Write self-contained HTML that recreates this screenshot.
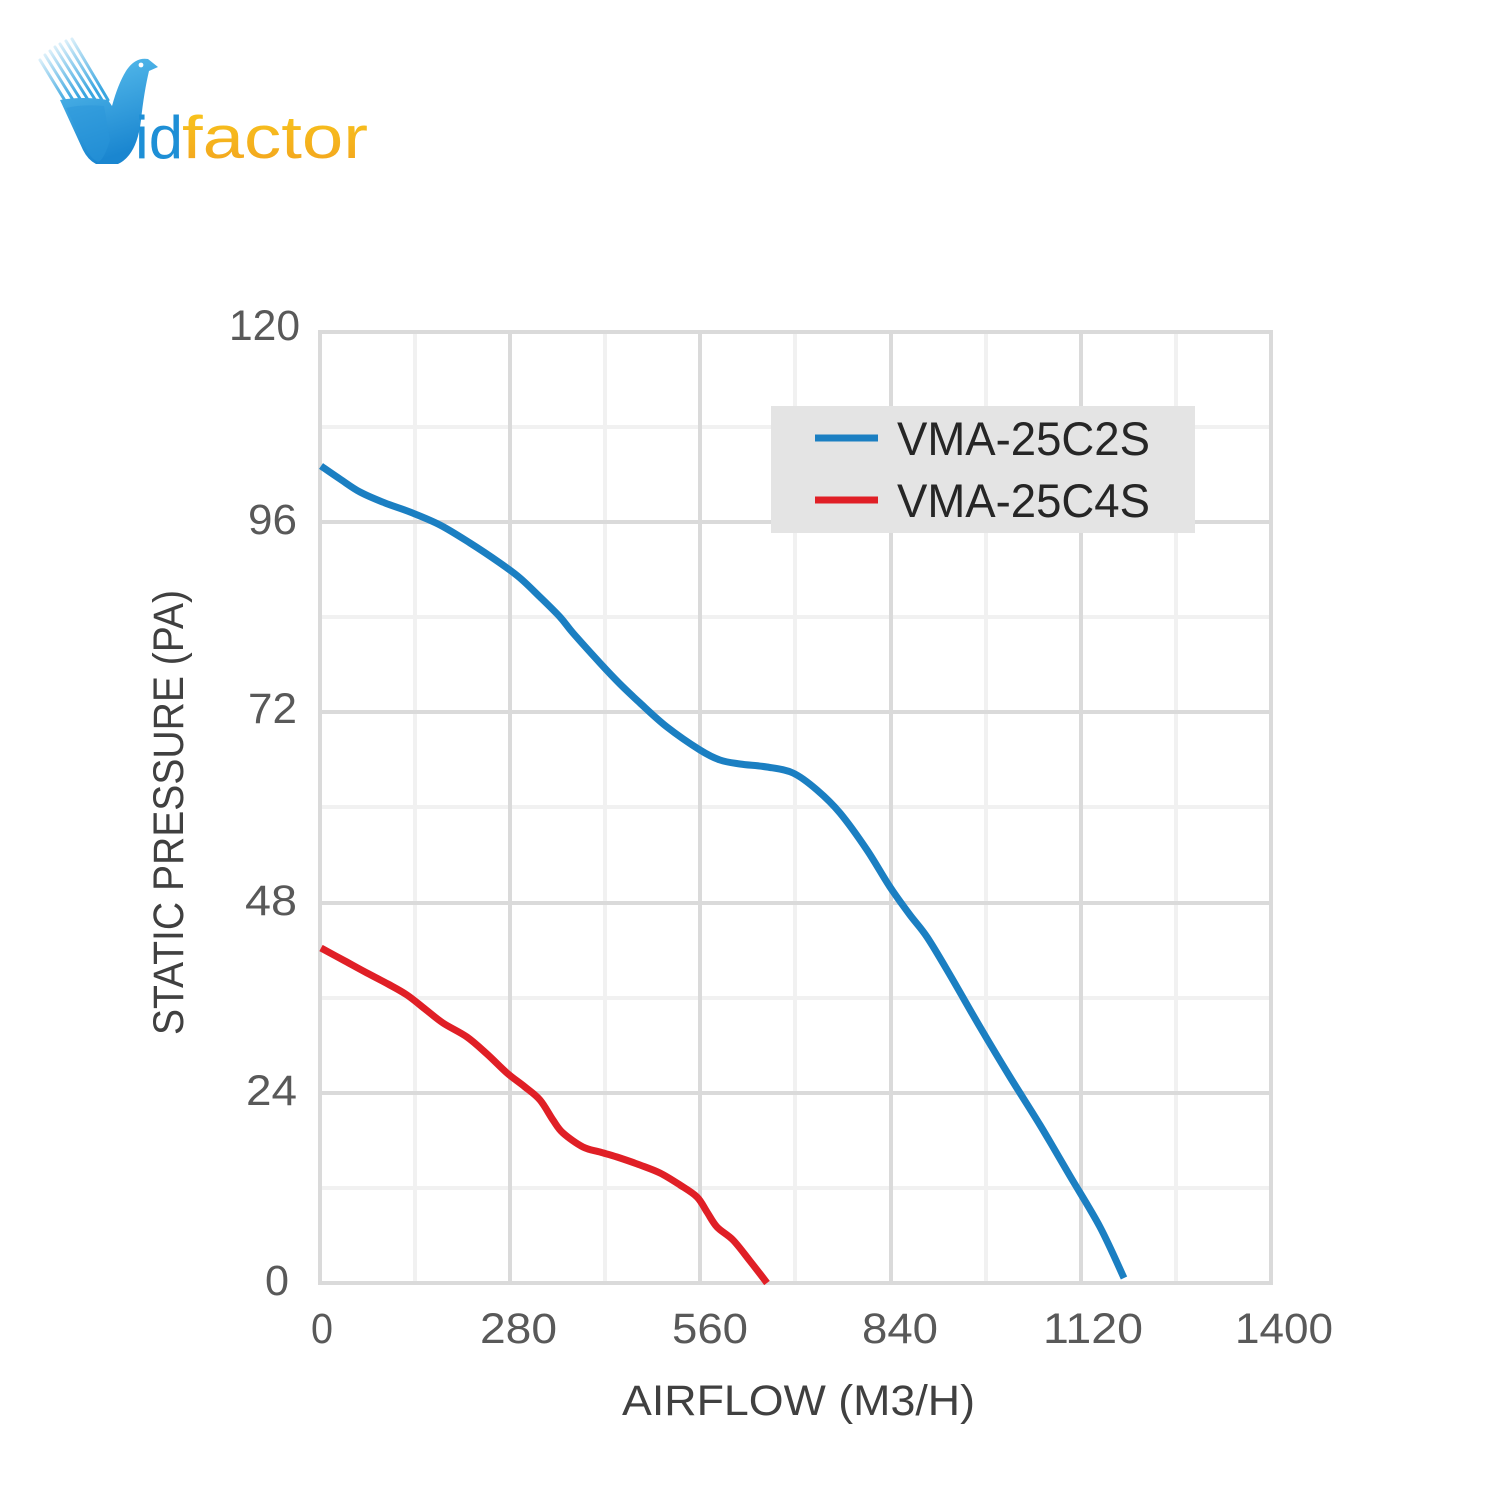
<!DOCTYPE html>
<html><head><meta charset="utf-8"><style>
html,body{margin:0;padding:0;background:#fff;}
svg{display:block;}
</style></head><body>
<svg width="1500" height="1500" viewBox="0 0 1500 1500" xmlns="http://www.w3.org/2000/svg">
<defs>
<linearGradient id="bg1" x1="0" y1="0" x2="0.3" y2="1">
<stop offset="0" stop-color="#5cc0ee"/><stop offset="1" stop-color="#1a86d0"/>
</linearGradient>
<linearGradient id="st" x1="0" y1="0" x2="0.5" y2="1">
<stop offset="0" stop-color="#d8eef9"/><stop offset="1" stop-color="#3aa6e0"/>
</linearGradient>
<linearGradient id="og" x1="0" y1="0" x2="0" y2="1">
<stop offset="0" stop-color="#f9c81c"/><stop offset="1" stop-color="#f2a21e"/>
</linearGradient>
</defs>
<rect width="1500" height="1500" fill="#fff"/>

<!-- Logo -->
<g>
<g stroke="url(#st)" stroke-width="3" stroke-linecap="round">
<line x1="40" y1="60" x2="72" y2="112"/>
<line x1="45" y1="55" x2="78" y2="108"/>
<line x1="50" y1="51" x2="84" y2="105"/>
<line x1="55" y1="47" x2="90" y2="103"/>
<line x1="60" y1="44" x2="96" y2="101"/>
<line x1="66" y1="41" x2="102" y2="100"/>
<line x1="72" y1="39" x2="108" y2="100"/>
</g>
<path d="M60 100 Q82 96 108 100 L112 106 Q118 84 126 71 Q135 57 148 59 L158 67 L149 71 Q144 92 141 120 Q137 155 118 164 L96 164 Q88 160 83 150 Z" fill="url(#bg1)"/>
<path d="M66 108 Q82 104 104 106 L110 140 Q104 160 98 162 Q90 158 86 148 Z" fill="#2a95da" opacity="0.5"/>
<circle cx="141" cy="65" r="2.4" fill="#fff"/>
<text x="135" y="158" font-family="'Liberation Sans',sans-serif" font-size="60" fill="#1e8fd6" textLength="48" lengthAdjust="spacingAndGlyphs">id</text>
<text x="182" y="158" font-family="'Liberation Sans',sans-serif" font-size="60" fill="url(#og)" textLength="186" lengthAdjust="spacingAndGlyphs">factor</text>
</g>

<!-- Minor grid -->
<g stroke="#f1f1f1" stroke-width="4">
<line x1="415" y1="332" x2="415" y2="1283"/>
<line x1="605" y1="332" x2="605" y2="1283"/>
<line x1="795" y1="332" x2="795" y2="1283"/>
<line x1="986" y1="332" x2="986" y2="1283"/>
<line x1="1176" y1="332" x2="1176" y2="1283"/>
<line x1="320" y1="427" x2="1271" y2="427"/>
<line x1="320" y1="617" x2="1271" y2="617"/>
<line x1="320" y1="807" x2="1271" y2="807"/>
<line x1="320" y1="998" x2="1271" y2="998"/>
<line x1="320" y1="1188" x2="1271" y2="1188"/>
</g>
<!-- Major grid -->
<g stroke="#dadada" stroke-width="4">
<line x1="510" y1="332" x2="510" y2="1283"/>
<line x1="700" y1="332" x2="700" y2="1283"/>
<line x1="891" y1="332" x2="891" y2="1283"/>
<line x1="1081" y1="332" x2="1081" y2="1283"/>
<line x1="320" y1="522" x2="1271" y2="522"/>
<line x1="320" y1="712" x2="1271" y2="712"/>
<line x1="320" y1="903" x2="1271" y2="903"/>
<line x1="320" y1="1093" x2="1271" y2="1093"/>
<rect x="320" y="332" width="951" height="951" fill="none"/>
</g>

<!-- Legend -->
<rect x="771" y="406" width="424" height="127" fill="#e4e4e4"/>
<line x1="815" y1="438" x2="878" y2="438" stroke="#1b7fc2" stroke-width="7"/>
<line x1="815" y1="500" x2="878" y2="500" stroke="#e01f26" stroke-width="7"/>
<g font-family="'Liberation Sans',sans-serif" font-size="47" fill="#262626">
<text x="897" y="455" textLength="253" lengthAdjust="spacingAndGlyphs">VMA-25C2S</text>
<text x="897" y="517" textLength="253" lengthAdjust="spacingAndGlyphs">VMA-25C4S</text>
</g>

<!-- Series -->
<path id="blue" fill="none" stroke="#1b7fc2" stroke-width="7" stroke-linejoin="round"
d="M321,466 L340,479 L360,492 L385,503 L410,512 L440,525 L470,543 L500,563 L520,578 L540,597 L560,617 L573,633 L600,663 L620,684 L640,703 L667,727 L700,750 L720,760 L740,764 L767,767 L793,773 L817,790 L840,813 L867,850 L890,887 L910,915 L927,937 L950,975 L980,1027 L1010,1077 L1040,1125 L1070,1176 L1100,1227 L1124,1278"/>
<path id="red" fill="none" stroke="#e01f26" stroke-width="7" stroke-linejoin="round"
d="M321,948 L345,961 L367,973 L388,984 L407,995 L425,1009 L443,1023 L467,1037 L487,1054 L507,1073 L525,1087 L540,1100 L553,1120 L563,1133 L583,1147 L600,1152 L617,1157 L640,1165 L660,1173 L680,1185 L697,1197 L707,1212 L717,1227 L733,1240 L750,1261 L767,1283"/>

<!-- Tick labels -->
<g font-family="'Liberation Sans',sans-serif" font-size="43" fill="#595959" lengthAdjust="spacingAndGlyphs">
<text x="229" y="340" textLength="71" lengthAdjust="spacingAndGlyphs">120</text>
<text x="248" y="534" textLength="49" lengthAdjust="spacingAndGlyphs">96</text>
<text x="248" y="723" textLength="49" lengthAdjust="spacingAndGlyphs">72</text>
<text x="245" y="915" textLength="52" lengthAdjust="spacingAndGlyphs">48</text>
<text x="246" y="1105" textLength="51" lengthAdjust="spacingAndGlyphs">24</text>
<text x="265" y="1295" textLength="24" lengthAdjust="spacingAndGlyphs">0</text>
<text x="311" y="1343" textLength="22" lengthAdjust="spacingAndGlyphs">0</text>
<text x="480" y="1343" textLength="77" lengthAdjust="spacingAndGlyphs">280</text>
<text x="672" y="1343" textLength="76" lengthAdjust="spacingAndGlyphs">560</text>
<text x="862" y="1343" textLength="76" lengthAdjust="spacingAndGlyphs">840</text>
<text x="1043" y="1343" textLength="100" lengthAdjust="spacingAndGlyphs">1120</text>
<text x="1235" y="1343" textLength="98" lengthAdjust="spacingAndGlyphs">1400</text>
</g>

<!-- Axis titles -->
<g font-family="'Liberation Sans',sans-serif" font-size="43" fill="#404040">
<text x="622" y="1415" textLength="353" lengthAdjust="spacingAndGlyphs">AIRFLOW (M3/H)</text>
<text transform="translate(183,1035) rotate(-90)" x="0" y="0" textLength="445" lengthAdjust="spacingAndGlyphs">STATIC PRESSURE (PA)</text>
</g>
</svg>
<script>
(function(){
  function smooth(id){
    var el=document.getElementById(id);
    var d=el.getAttribute('d');
    var nums=d.match(/-?\d+(\.\d+)?/g).map(Number);
    var p=[];
    for(var i=0;i<nums.length;i+=2)p.push([nums[i],nums[i+1]]);
    var s='M'+p[0][0]+','+p[0][1];
    for(var i=0;i<p.length-1;i++){
      var p0=p[i>0?i-1:i],p1=p[i],p2=p[i+1],p3=p[i+2<p.length?i+2:i+1];
      var c1x=p1[0]+(p2[0]-p0[0])/6,c1y=p1[1]+(p2[1]-p0[1])/6;
      var c2x=p2[0]-(p3[0]-p1[0])/6,c2y=p2[1]-(p3[1]-p1[1])/6;
      s+=' C'+c1x.toFixed(1)+','+c1y.toFixed(1)+' '+c2x.toFixed(1)+','+c2y.toFixed(1)+' '+p2[0]+','+p2[1];
    }
    el.setAttribute('d',s);
  }
  try{smooth('blue');smooth('red');}catch(e){}
})();
</script>
</body></html>
